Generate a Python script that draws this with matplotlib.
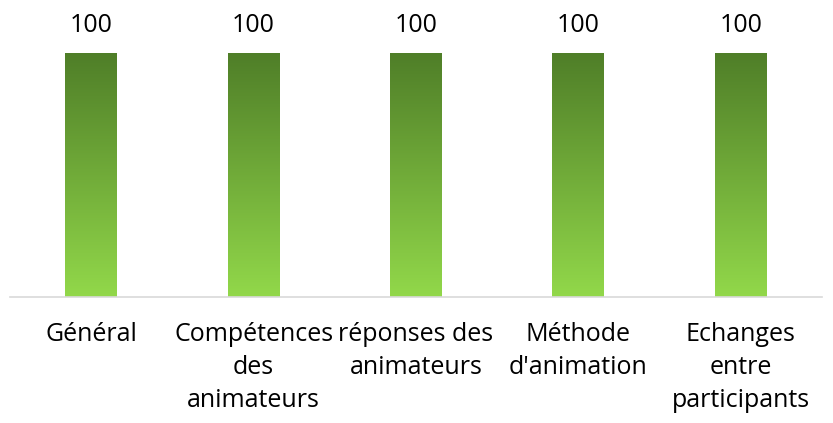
import matplotlib.pyplot as plt
import numpy as np
from matplotlib.colors import LinearSegmentedColormap

categories = ["Général", "Compétences\ndes\nanimateurs", "réponses des\nanimateurs",
              "Méthode\nd'animation", "Echanges\nentre\nparticipants"]
values = [100, 100, 100, 100, 100]

plt.rcParams['font.family'] = ['Open Sans', 'DejaVu Sans']

fig = plt.figure(figsize=(8.33, 4.23), dpi=100)
ax = fig.add_axes([10 / 833, 1 - 297 / 423, 812 / 833, 244 / 423])

x = np.arange(len(categories))
bars = ax.bar(x, values, width=0.32, color="none", edgecolor="none")

cmap = LinearSegmentedColormap.from_list("grn", ["#92d84a", "#4f7e28"])
grad = np.linspace(0, 1, 256).reshape(-1, 1)
for b, v in zip(bars, values):
    x0 = b.get_x()
    w = b.get_width()
    im = ax.imshow(grad, cmap=cmap, origin="lower", aspect="auto",
                   extent=(x0, x0 + w, 0, v), zorder=2)
    ax.text(x0 + w / 2, v + 6, str(v), ha="center", va="bottom", fontsize=18)

ax.set_xlim(-0.5, len(categories) - 0.5)
ax.set_ylim(0, 100)
ax.set_yticks([])
ax.set_xticks(x)
ax.set_xticklabels(categories, fontsize=18, linespacing=1.42)
ax.tick_params(axis="x", length=0, pad=18)
for s in ["top", "left", "right"]:
    ax.spines[s].set_visible(False)
ax.spines["bottom"].set_color("#d9d9d9")
ax.spines["bottom"].set_linewidth(1.2)

fig.savefig("out.png", dpi=100)
